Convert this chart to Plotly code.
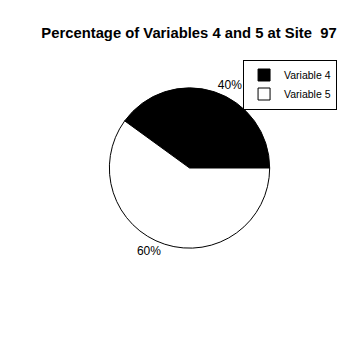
import plotly.graph_objects as go

labels = ["Variable 4", "Variable 5"]
values = [40, 60]
colors = ["black", "white"]
title = "Percentage of Variables 4 and 5 at Site  97"

fig = go.Figure(go.Pie(
    labels=labels, values=values, sort=False, direction="clockwise",
    rotation=-54, marker=dict(colors=colors, line=dict(color="black", width=1)),
    textposition="outside", texttemplate="%{percent:.0%}",
    textfont=dict(family="Liberation Sans, Arial", size=12, color="black"),
    domain=dict(x=[0.3, 0.783], y=[0.291, 0.749]),
))
fig.update_layout(
    width=350, height=350, margin=dict(l=0, r=0, t=0, b=0),
    paper_bgcolor="white", plot_bgcolor="white",
    title=dict(text="<b>" + title + "</b>", x=0.54, xanchor="center", y=0.905, yanchor="middle",
               font=dict(family="Liberation Sans, Arial", size=14.8, color="black")),
    legend=dict(x=0.963, xanchor="right", y=0.83, yanchor="top",
                bordercolor="black", borderwidth=1, bgcolor="rgba(255,255,255,0)",
                font=dict(family="Liberation Sans, Arial", size=10.5, color="black"),
                itemwidth=30, tracegroupgap=0),
)
fig.write_html("out.html")
